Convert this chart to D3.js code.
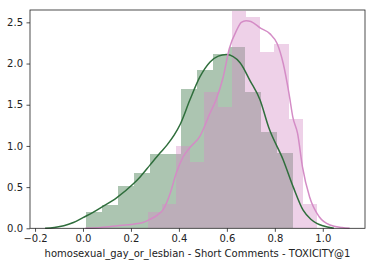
<!DOCTYPE html>
<html>
<head>
<meta charset="utf-8">
<script src="https://cdn.jsdelivr.net/npm/d3@7"></script>
<style>
  html, body { margin: 0; padding: 0; background: #fff; }
  svg { display: block; }
  text { font-family: "DejaVu Sans", sans-serif; }
</style>
</head>
<body>
<svg id="chart" width="375" height="267"></svg>
<script>
// ---- data ----
const xLabel = "homosexual_gay_or_lesbian - Short Comments - TOXICITY@1";
const xTicks = [-0.2, 0.0, 0.2, 0.4, 0.6, 0.8, 1.0];
const yTicks = [0.0, 0.5, 1.0, 1.5, 2.0, 2.5];

// green histogram: bin start, bin width, densities
const greenStart = 0.0125;
const greenWidth = 0.0663;
const greenHeights = [0.20, 0.28, 0.51, 0.67, 0.90, 0.90, 1.69, 1.92, 2.11, 2.20, 1.66, 1.17, 0.91];

// pink histogram
const pinkStart = 0.273;
const pinkWidth = 0.0584;
const pinkHeights = [0.20, 0.30, 1.00, 0.81, 1.66, 1.47, 2.64, 2.57, 2.14, 2.24, 1.33, 0.29];

// KDE curves [x, density]
const greenKde = [
  [-0.158, 0.0], [-0.12, 0.01], [-0.08, 0.03], [-0.04, 0.07], [0.0, 0.13],
  [0.04, 0.19], [0.08, 0.26], [0.14, 0.37], [0.21, 0.54], [0.24, 0.63],
  [0.28, 0.77], [0.32, 0.91], [0.35, 1.01], [0.38, 1.13], [0.405, 1.26],
  [0.446, 1.56], [0.488, 1.84], [0.53, 2.02], [0.564, 2.09], [0.598, 2.11],
  [0.655, 2.01], [0.697, 1.79], [0.738, 1.56], [0.775, 1.22], [0.835, 0.83],
  [0.877, 0.50], [0.918, 0.22], [0.95, 0.11], [0.975, 0.06], [1.0, 0.03], [1.046, 0.0]
];
const pinkKde = [
  [0.01, 0.0], [0.075, 0.01], [0.144, 0.03], [0.21, 0.05], [0.25, 0.07],
  [0.28, 0.11], [0.31, 0.16], [0.335, 0.23], [0.363, 0.42], [0.39, 0.68],
  [0.418, 0.87], [0.446, 0.98], [0.488, 1.12], [0.53, 1.40], [0.555, 1.56],
  [0.585, 1.84], [0.61, 2.18], [0.64, 2.40], [0.66, 2.50], [0.68, 2.52],
  [0.70, 2.51], [0.74, 2.43], [0.78, 2.36], [0.81, 2.24], [0.835, 2.0],
  [0.86, 1.62], [0.875, 1.35], [0.895, 1.15], [0.915, 0.75], [0.945, 0.38],
  [0.985, 0.14], [1.03, 0.04], [1.08, 0.01], [1.112, 0.0]
];

const greenColor = "#2f6e3c";
const pinkColor = "#d48cc6";

// ---- layout ----
const svg = d3.select("#chart");
const mLeft = 30, mRight = 365, mTop = 10, mBottom = 228.3;

const x = d3.scaleLinear().domain([-0.221, 1.176]).range([mLeft, mRight]);
const y = d3.scaleLinear().domain([0, 2.65]).range([mBottom, mTop]);

const bins = (start, width, heights) =>
  heights.map((h, i) => ({ x0: start + i * width, x1: start + (i + 1) * width, h }));

const g = svg.append("g");

function drawHist(data, color) {
  g.append("g").selectAll("rect").data(data).join("rect")
    .attr("x", d => x(d.x0))
    .attr("width", d => x(d.x1) - x(d.x0))
    .attr("y", d => y(d.h))
    .attr("height", d => y(0) - y(d.h))
    .attr("fill", color)
    .attr("fill-opacity", 0.4)
    .attr("shape-rendering", "crispEdges");
}

drawHist(bins(greenStart, greenWidth, greenHeights), greenColor);
drawHist(bins(pinkStart, pinkWidth, pinkHeights), pinkColor);

const line = d3.line().x(d => x(d[0])).y(d => y(d[1])).curve(d3.curveMonotoneX);
g.append("path").attr("d", line(greenKde)).attr("fill", "none")
  .attr("stroke", greenColor).attr("stroke-width", 1.5);
g.append("path").attr("d", line(pinkKde)).attr("fill", "none")
  .attr("stroke", pinkColor).attr("stroke-width", 1.5);

// ---- axes ----
const fmt = d3.format(".1f");
const xAxis = svg.append("g").attr("transform", `translate(0,${mBottom})`)
  .call(d3.axisBottom(x).tickValues(xTicks).tickFormat(fmt).tickSize(3.5).tickPadding(3.5));
const yAxis = svg.append("g").attr("transform", `translate(${mLeft},0)`)
  .call(d3.axisLeft(y).tickValues(yTicks).tickFormat(fmt).tickSize(3.5).tickPadding(3.5));
[xAxis, yAxis].forEach(a => {
  a.select(".domain").remove();
  a.selectAll("text").attr("font-size", 10).attr("fill", "#222")
    .attr("font-family", "DejaVu Sans, sans-serif");
  a.selectAll("line").attr("stroke", "#222").attr("stroke-width", 0.8);
});

// spines
svg.append("rect").attr("x", mLeft).attr("y", mTop)
  .attr("width", mRight - mLeft).attr("height", mBottom - mTop)
  .attr("fill", "none").attr("stroke", "#222").attr("stroke-width", 0.8);

// x label
svg.append("text").attr("x", (mLeft + mRight) / 2).attr("y", 256.5)
  .attr("text-anchor", "middle").attr("font-size", 10).attr("fill", "#222")
  .text(xLabel);
</script>
</body>
</html>
